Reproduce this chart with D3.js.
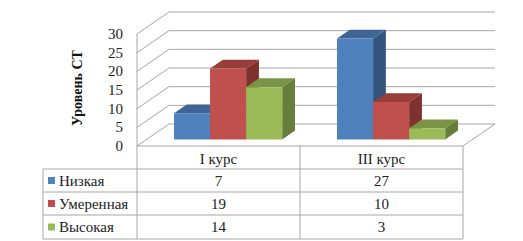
<!DOCTYPE html>
<html lang="ru">
<head>
<meta charset="UTF-8">
<title>Уровень СТ</title>
<style>
  body { margin: 0; background: #fff; }
  svg text { font-family: 'Times New Roman', 'Liberation Serif', Tinos, 'DejaVu Serif', 'Noto Serif', Times, serif; }
</style>
</head>
<body>
<svg width="523" height="241" id="svg"></svg>
<script src="https://d3js.org/d3.v7.min.js"></script>
<script>
  // data
  const categories = ["I курс", "III курс"]
  const seriesNames = ["Низкая", "Умеренная", "Высокая"]
  const nizkaya = [7, 27]
  const umerennaya = [19, 10]
  const vysokaya = [14, 3]
  const yTicks = [0, 5, 10, 15, 20, 25, 30]

  const seriesValues = [nizkaya, umerennaya, vysokaya]
  const colors = {
    front: ["#4f81bd", "#c0504d", "#9bbb59"],
    top: ["#3e6593", "#973d3a", "#7a9446"],
    side: ["#34557c", "#7e322f", "#677d3b"]
  }

  const svg = d3.select("svg#svg")
  const grid = "#a6a6a6"

  // plot frame
  const floorY = 146
  const left = 137, right = 463
  const depth = { x: 32, y: -22 }

  const yScale = d3.scaleLinear().domain([0, 30]).range([0, 112])
  const x0 = d3.scaleBand().domain(categories).range([left, right])
  const x1 = d3.scaleBand().domain(seriesNames).range([0, x0.bandwidth()]).paddingOuter(0.76)

  // project (x in front plane, value, depth fraction) to screen
  function pt(x, v, z) {
    return [x + z * depth.x, floorY - yScale(v) + z * depth.y]
  }

  const walls = svg.append("g").attr("stroke", grid).attr("stroke-width", 1).attr("fill", "none")

  // back wall grid lines and side wall lines
  yTicks.forEach(t => {
    const a = pt(left, t, 0), b = pt(left, t, 1), c = pt(right, t, 1)
    walls.append("path").attr("d", `M${a[0]},${a[1]}L${b[0]},${b[1]}L${c[0]},${c[1]}`)
  })
  // left wall front edge
  walls.append("line")
    .attr("x1", left).attr("x2", left)
    .attr("y1", pt(left, 30, 0)[1]).attr("y2", floorY)
  // floor right edge
  const fr0 = pt(right, 0, 0), fr1 = pt(right, 0, 1)
  walls.append("line").attr("x1", fr0[0]).attr("y1", fr0[1]).attr("x2", fr1[0]).attr("y2", fr1[1])

  // y tick labels
  svg.append("g").selectAll("text").data(yTicks).enter().append("text")
    .attr("x", left - 14)
    .attr("y", d => pt(left, d, 0)[1] + 5)
    .attr("text-anchor", "end")
    .attr("font-size", 15)
    .attr("fill", "#222")
    .text(d => d)

  // y title
  svg.append("text")
    .attr("transform", `translate(82, 88) rotate(-90)`)
    .attr("text-anchor", "middle")
    .attr("font-size", 14)
    .attr("font-weight", "bold")
    .attr("fill", "#111")
    .text("Уровень СТ")

  // bars
  const z0 = 0.3, z1 = 0.7
  const bars = svg.append("g")
  categories.forEach((cat, ci) => {
    seriesNames.forEach((s, si) => {
      const v = seriesValues[si][ci]
      const xa = x0(cat) + x1(s), xb = xa + x1.bandwidth()
      const fbl = pt(xa, 0, z0), fbr = pt(xb, 0, z0), ftl = pt(xa, v, z0), ftr = pt(xb, v, z0)
      const bbr = pt(xb, 0, z1), btl = pt(xa, v, z1), btr = pt(xb, v, z1)
      const poly = p => "M" + p.map(q => q.join(",")).join("L") + "Z"
      bars.append("path").attr("d", poly([fbr, bbr, btr, ftr])).attr("fill", colors.side[si])
      bars.append("path").attr("d", poly([ftl, ftr, btr, btl])).attr("fill", colors.top[si])
      bars.append("path").attr("d", poly([fbl, fbr, ftr, ftl])).attr("fill", colors.front[si])
    })
  })

  // data table
  const tableLeft = 43
  const rowY = [floorY, 169, 192, 215, 239]
  const table = svg.append("g").attr("stroke", grid).attr("stroke-width", 1)
  table.append("line").attr("x1", left).attr("x2", right).attr("y1", floorY).attr("y2", floorY)
  rowY.slice(1).forEach(y => {
    table.append("line").attr("x1", tableLeft).attr("x2", right).attr("y1", y).attr("y2", y)
  })
  table.append("line").attr("x1", tableLeft).attr("x2", tableLeft).attr("y1", rowY[1]).attr("y2", rowY[4])
  ;[left, x0(categories[1]), right].forEach(x => {
    table.append("line").attr("x1", x).attr("x2", x).attr("y1", floorY).attr("y2", rowY[4])
  })

  // category headers
  svg.append("g").selectAll("text").data(categories).enter().append("text")
    .attr("x", d => x0(d) + x0.bandwidth() / 2)
    .attr("y", rowY[1] - 5)
    .attr("text-anchor", "middle")
    .attr("font-size", 15)
    .attr("fill", "#222")
    .text(d => d)

  // rows
  seriesNames.forEach((s, si) => {
    const yTop = rowY[si + 1], yBot = rowY[si + 2]
    const mid = (yTop + yBot) / 2
    svg.append("rect")
      .attr("x", 48).attr("y", mid - 3.5).attr("width", 7).attr("height", 7)
      .attr("fill", colors.front[si])
    svg.append("text")
      .attr("x", 59).attr("y", mid + 5)
      .attr("font-size", 15).attr("fill", "#222")
      .text(s)
    svg.append("g").selectAll("text").data(categories).enter().append("text")
      .attr("x", d => x0(d) + x0.bandwidth() / 2)
      .attr("y", mid + 5)
      .attr("text-anchor", "middle")
      .attr("font-size", 15)
      .attr("fill", "#222")
      .text((d, ci) => seriesValues[si][ci])
  })
</script>
</body>
</html>
